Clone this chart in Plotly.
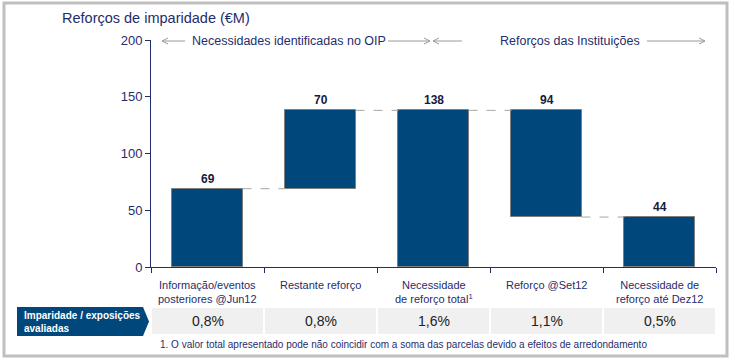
import plotly.graph_objects as go

categories = ["Informação/eventos<br>posteriores @Jun12", "Restante reforço",
              "Necessidade<br>de reforço total<sup>1</sup>", "Reforço @Set12",
              "Necessidade de<br>reforço até Dez12"]
bar_bottoms = [0, 69, 0, 44, 0]
bar_tops = [69, 138, 138, 138, 44]
bar_labels = ["69", "70", "138", "94", "44"]
ratio_values = ["0,8%", "0,8%", "1,6%", "1,1%", "0,5%"]
y_ticks = [0, 50, 100, 150, 200]

NAVY = "#1F2D6B"
BAR = "#00477C"
FONT = "Liberation Sans, Arial, sans-serif"

W, H = 735, 363
L, R, T, B = 151, 716, 40, 267


def px(x):
    return (x - L) / (R - L)


def py(y):
    return (B - y) / (B - T)


x_idx = list(range(len(categories)))
heights = [t - b for t, b in zip(bar_tops, bar_bottoms)]

fig = go.Figure()
fig.add_trace(go.Bar(
    x=x_idx, y=heights, base=bar_bottoms, width=0.62,
    marker=dict(color=BAR, line=dict(color="#7f7f7f", width=1)),
    hoverinfo="skip",
))

shapes = []
annotations = []

# data labels
for i, (t, lab) in enumerate(zip(bar_tops, bar_labels)):
    annotations.append(dict(x=i, y=t, xref="x", yref="y", text="<b>%s</b>" % lab,
                            showarrow=False, xanchor="center", yanchor="bottom", yshift=1,
                            font=dict(size=12, color="#1a1a3a", family=FONT)))

# connectors
conn_levels = [bar_tops[0], bar_tops[1], bar_tops[2], bar_bottoms[3]]
for i, lv in enumerate(conn_levels):
    shapes.append(dict(type="line", xref="x", yref="y", x0=i + 0.31, x1=i + 1 - 0.31,
                       y0=lv, y1=lv, line=dict(color="#a6a6a6", width=1, dash="dash")))

# category labels
for i, c in enumerate(categories):
    annotations.append(dict(x=i, y=py(277), xref="x", yref="paper", text=c,
                            showarrow=False, xanchor="center", yanchor="top",
                            font=dict(size=11, color=NAVY, family=FONT)))

# table row
for i, v in enumerate(ratio_values):
    shapes.append(dict(type="rect", xref="x", yref="paper", x0=i - 0.5, x1=i + 0.5,
                       y0=py(335), y1=py(307), fillcolor="#f0f0f0",
                       line=dict(color="white", width=2), layer="below"))
    annotations.append(dict(x=i, y=py(321), xref="x", yref="paper", text=v,
                            showarrow=False, xanchor="center", yanchor="middle",
                            font=dict(size=14, color="#222222", family=FONT)))

# pentagon label
path = "M {a},{b} L {c},{b} L {d},{m} L {c},{e} L {a},{e} Z".format(
    a=px(17), c=px(143), d=px(149), b=py(307), e=py(336), m=py(321.5))
shapes.append(dict(type="path", xref="paper", yref="paper", path=path,
                   fillcolor="#00477C", line=dict(width=0)))
annotations.append(dict(x=px(22), y=py(321.5), xref="paper", yref="paper",
                        text="<b>Imparidade / exposições<br>avaliadas</b>",
                        showarrow=False, xanchor="left", yanchor="middle", align="left",
                        font=dict(size=10, color="white", family=FONT)))

# footnote
annotations.append(dict(x=px(158), y=py(344), xref="paper", yref="paper",
                        text="1. O valor total apresentado pode não coincidir com a soma das parcelas devido a efeitos de arredondamento",
                        showarrow=False, xanchor="left", yanchor="middle",
                        font=dict(size=10, color=NAVY, family=FONT)))

# title
annotations.append(dict(x=px(60), y=py(18), xref="paper", yref="paper",
                        text="Reforços de imparidade (€M)", showarrow=False,
                        xanchor="left", yanchor="middle",
                        font=dict(size=14.5, color=NAVY, family=FONT)))

# top arrows
ay = py(41)
GREY = "#9a9a9a"


def hline(x0, x1):
    shapes.append(dict(type="line", xref="paper", yref="paper", x0=px(x0), x1=px(x1),
                       y0=ay, y1=ay, line=dict(color=GREY, width=1)))


def chevron(x, direction):
    d = 6 * direction
    p = "M {a},{t} L {b},{m} L {a},{bt}".format(a=px(x - d), b=px(x), t=py(38), m=ay, bt=py(44))
    shapes.append(dict(type="path", xref="paper", yref="paper", path=p,
                       line=dict(color=GREY, width=1)))


hline(162, 185); chevron(162, -1)
hline(388, 430); chevron(430, 1)
hline(433, 462); chevron(433, -1)
hline(647, 705); chevron(705, 1)

annotations.append(dict(x=px(289), y=ay, xref="paper", yref="paper",
                        text="Necessidades identificadas no OIP", showarrow=False,
                        xanchor="center", yanchor="middle",
                        font=dict(size=12.5, color=NAVY, family=FONT)))
annotations.append(dict(x=px(569.5), y=ay, xref="paper", yref="paper",
                        text="Reforços das Instituições", showarrow=False,
                        xanchor="center", yanchor="middle",
                        font=dict(size=12.5, color=NAVY, family=FONT)))

# outer frame
shapes.append(dict(type="rect", xref="paper", yref="paper", x0=px(4), x1=px(727),
                   y0=py(356), y1=py(3), line=dict(color="#bfbfbf", width=3)))

fig.update_layout(
    width=W, height=H,
    margin=dict(l=L, r=W - R, t=T, b=H - B),
    paper_bgcolor="white", plot_bgcolor="white",
    showlegend=False, bargap=0,
    shapes=shapes, annotations=annotations,
    font=dict(family=FONT, color=NAVY),
    xaxis=dict(range=[-0.5, len(categories) - 0.5], tickvals=[i - 0.5 for i in range(len(categories) + 1)],
               showticklabels=False, ticks="outside", ticklen=5, tickcolor=NAVY,
               showline=True, linecolor=NAVY, linewidth=1, showgrid=False, zeroline=False,
               fixedrange=True),
    yaxis=dict(range=[0, 200], tickvals=y_ticks, ticks="outside", ticklen=5, tickcolor=NAVY,
               showline=True, linecolor=NAVY, linewidth=1, showgrid=False, zeroline=False,
               tickfont=dict(size=13, color=NAVY, family=FONT), fixedrange=True),
)

fig.write_html("out.html", config={"displayModeBar": False},
               post_script="document.body.style.margin='0';document.body.style.overflow='hidden';")
